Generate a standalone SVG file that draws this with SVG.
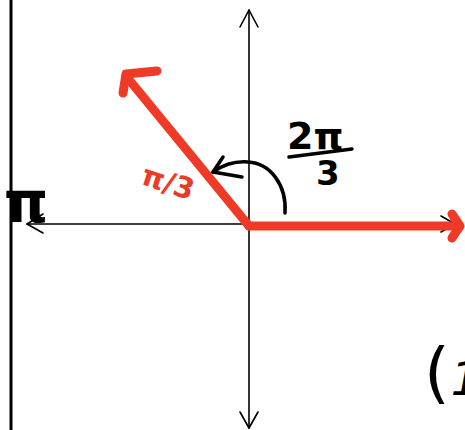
<svg xmlns="http://www.w3.org/2000/svg" width="465" height="430" viewBox="0 0 465 430">
<style>
.ax{fill:none;stroke:#000;stroke-width:1.6;stroke-linecap:round;stroke-linejoin:round}
.ink{fill:none;stroke:#000;stroke-width:3.5;stroke-linecap:round;stroke-linejoin:round}
.red{fill:none;stroke:#EE3A26;stroke-width:9;stroke-linecap:round;stroke-linejoin:round}
.hand{font-family:"DejaVu Sans",sans-serif;font-weight:bold}
</style>
<rect width="465" height="430" fill="#fff"/>
<g id="connectors">
<line x1="11" y1="0" x2="11" y2="430" stroke="#000" stroke-width="3"/>
<line class="ax" x1="249" y1="10" x2="249" y2="428"/>
<polyline class="ax" points="240,27 249,10 258,27"/>
<polyline class="ax" points="240,412 249,428 258,412"/>
<line class="ax" x1="27" y1="224" x2="455" y2="224"/>
<polyline class="ax" points="43,214 27,224 43,233"/>
<polyline class="ax" points="441,216 455,224 441,232"/>
<line class="red" x1="249" y1="226" x2="458" y2="226"/>
<polyline class="red" points="452,214 460,226 452,238"/>
<line class="red" x1="249" y1="226" x2="126" y2="76"/>
<polyline class="red" points="157,71 126,74 123,93"/>
<path class="ink" d="M285,213 C287,185 270,163 248,162 C235,161 223,165 213,172"/>
<polyline class="ink" points="223,157 213,172 242,177"/>
</g>
<g id="label-2pi3">
<text class="hand" x="287" y="149" font-size="38">2π</text>
<path class="ink" d="M289,157 L352,149"/>
<text class="hand" x="316" y="185" font-size="34">3</text>
</g>
<g id="label-pi3">
<text class="hand" x="140" y="190" font-size="29" fill="#EE3A26" transform="rotate(18 160 185)">π/3</text>
</g>
<g id="label-pi">
<text class="hand" x="4" y="222" font-size="56">π</text>
</g>
<g id="label-quadrant">
<text x="424" y="395" font-family="DejaVu Sans,sans-serif"><tspan font-size="66">(</tspan><tspan font-size="46" font-style="italic" dx="1">1</tspan></text>
</g>
</svg>
